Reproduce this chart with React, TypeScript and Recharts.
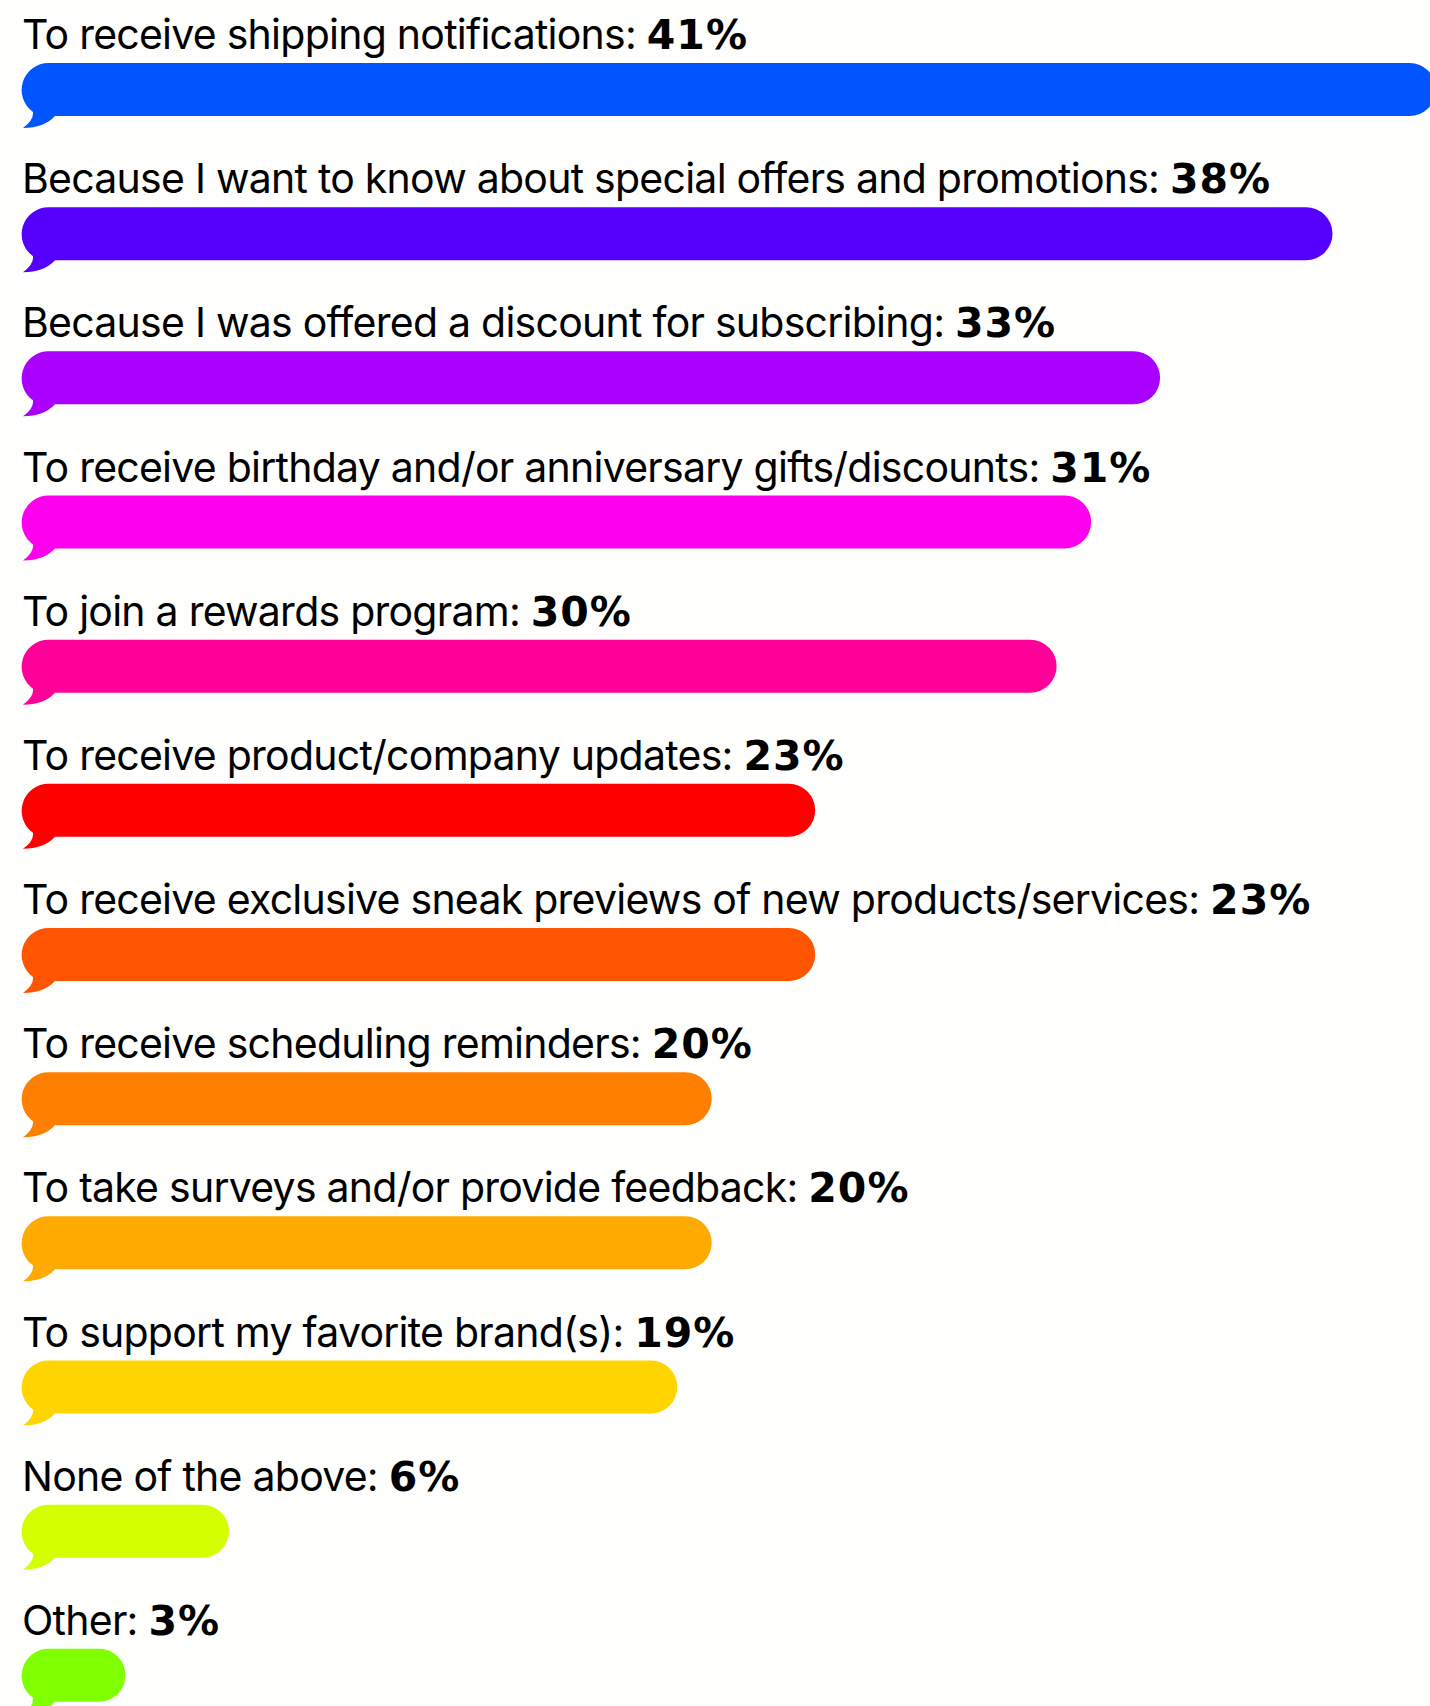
import React from 'react';
import { Bar, BarChart, Cell, LabelList, XAxis, YAxis } from 'recharts';

const reasons = [
  'To receive shipping notifications',
  'Because I want to know about special offers and promotions',
  'Because I was offered a discount for subscribing',
  'To receive birthday and/or anniversary gifts/discounts',
  'To join a rewards program',
  'To receive product/company updates',
  'To receive exclusive sneak previews of new products/services',
  'To receive scheduling reminders',
  'To take surveys and/or provide feedback',
  'To support my favorite brand(s)',
  'None of the above',
  'Other',
];

const shares = [41, 38, 33, 31, 30, 23, 23, 20, 20, 19, 6, 3];

const bubbleColors = [
  '#0055ff', '#5500ff', '#aa00ff', '#ff00ee', '#ff0099', '#ff0000',
  '#ff5500', '#ff8000', '#ffaa00', '#ffd500', '#d4ff00', '#80ff00',
];

const data = reasons.map((reason, i) => ({ reason, share: shares[i] }));

// speech bubble: pill with a small tail at the bottom left
function Bubble(props: any) {
  const { x, y, width, height, fill } = props;
  const r = height / 2;
  const w = Math.max(width, height);
  const d = [
    `M ${x + r} ${y}`,
    `H ${x + w - r}`,
    `A ${r} ${r} 0 0 1 ${x + w - r} ${y + height}`,
    `H ${x + 33}`,
    `Q ${x + 22} ${y + height + 12} ${x + 1} ${y + height + 12}`,
    `Q ${x + 12} ${y + height + 4} ${x + 11} ${y + height - 4}`,
    `A ${r + 0.5} ${r + 0.5} 0 0 1 ${x + r} ${y}`,
    'Z',
  ].join(' ');
  return <path d={d} fill={fill} />;
}

function Caption(props: any) {
  const { x, y, index } = props;
  return (
    <text x={x} y={y - 14} fill="#000" fontSize={41} fontFamily="Inter, 'Noto Sans', sans-serif" letterSpacing={-0.75}>
      {reasons[index]}:{' '}
      <tspan fontFamily="'DejaVu Sans', sans-serif" fontWeight={700} letterSpacing={1}>
        {shares[index]}%
      </tspan>
    </text>
  );
}

export default function App() {
  return (
    <div style={{ position: 'absolute', left: 0, top: 0, width: 1430, height: 1706, overflow: 'hidden', background: '#fefefc' }}>
      <BarChart
        width={1436}
        height={1747}
        data={data}
        layout="vertical"
        margin={{ top: 17, right: 0, bottom: 0, left: 22 }}
        barSize={53}
      >
        <XAxis type="number" domain={[0, 41]} hide />
        <YAxis type="category" dataKey="reason" hide />
        <Bar dataKey="share" shape={<Bubble />} isAnimationActive={false}>
          {data.map((d, i) => (
            <Cell key={d.reason} fill={bubbleColors[i]} />
          ))}
          <LabelList dataKey="share" content={<Caption />} />
        </Bar>
      </BarChart>
    </div>
  );
}
